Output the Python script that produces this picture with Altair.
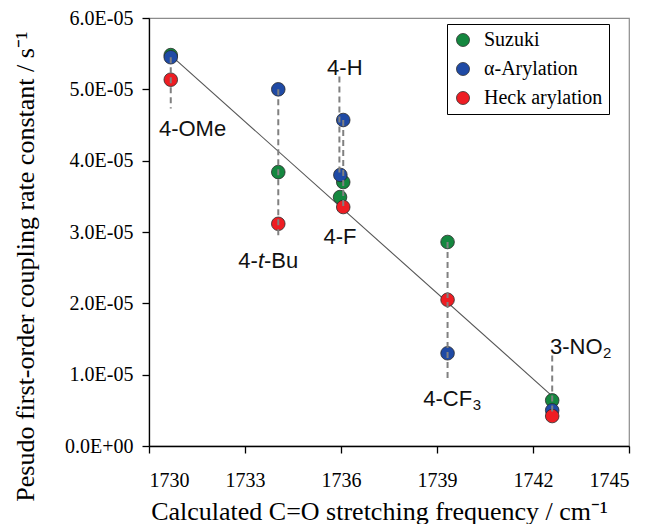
import altair as alt
import pandas as pd

# ---------------- data ----------------
series = ["Suzuki", "α-Arylation", "Heck arylation"]
colors = ["#14873F", "#1F4AA5", "#EE1D23"]

suzuki_x = [1730.68, 1734.04, 1736.07, 1735.97, 1739.33, 1742.60]
suzuki_y = [5.48e-5, 3.84e-5, 3.70e-5, 3.49e-5, 2.86e-5, 0.64e-5]
aryl_x = [1730.68, 1734.04, 1736.07, 1735.98, 1739.33, 1742.60]
aryl_y = [5.45e-5, 5.00e-5, 4.57e-5, 3.80e-5, 1.30e-5, 0.50e-5]
heck_x = [1730.68, 1734.04, 1736.07, 1739.33, 1742.60]
heck_y = [5.135e-5, 3.115e-5, 3.35e-5, 2.05e-5, 0.42e-5]

fit_x = [1730.70, 1742.60]
fit_y = [5.47e-5, 0.70e-5]

drop_x = [1730.68, 1734.04, 1735.95, 1736.07, 1739.33, 1742.60]
drop_top = [5.45e-5, 5.00e-5, 5.18e-5, 4.57e-5, 2.86e-5, 1.27e-5]
drop_bottom = [4.73e-5, 2.94e-5, 3.80e-5, 3.35e-5, 0.95e-5, 0.45e-5]

label_text = ["4-OMe", "4-H", "4-F"]
label_x = [1731.36, 1736.12, 1735.97]
label_y = [4.45e-5, 5.30e-5, 2.93e-5]

# multi-part labels (left-anchored)
tbu_x, tbu_y = 1732.79, 2.595e-5
cf3_x, cf3_y = 1738.57, 0.656e-5
no2_x, no2_y = 1742.53, 1.385e-5

x_ticks = [1730, 1733, 1736, 1739, 1742, 1745]
y_ticks = [0, 1e-5, 2e-5, 3e-5, 4e-5, 5e-5, 6e-5]
y_tick_labels = ["0.0E+00", "1.0E-05", "2.0E-05", "3.0E-05", "4.0E-05", "5.0E-05", "6.0E-05"]

x_title = "Calculated C=O stretching frequency / cm⁻¹"
y_title = "Pesudo first-order coupling rate constant / s⁻¹"

# ---------------- tables ----------------
pts = pd.concat([
    pd.DataFrame({"series": series[0], "x": suzuki_x, "y": suzuki_y}),
    pd.DataFrame({"series": series[1], "x": aryl_x, "y": aryl_y}),
    pd.DataFrame({"series": series[2], "x": heck_x, "y": heck_y}),
], ignore_index=True)
fit = pd.DataFrame({"x": fit_x, "y": fit_y})
drops = pd.DataFrame({"x": drop_x, "y": drop_top, "y2": drop_bottom})
labels = pd.DataFrame({"text": label_text, "x": label_x, "y": label_y})
tbu = pd.DataFrame({"x": [tbu_x], "y": [tbu_y]})
cf3 = pd.DataFrame({"x": [cf3_x], "y": [cf3_y]})
no2 = pd.DataFrame({"x": [no2_x], "y": [no2_y]})

serif = "Liberation Serif"
sans = "Liberation Sans"

label_expr = "[" + ",".join(f"'{s}'" for s in y_tick_labels) + "][round(datum.value*1e5)]"

X = alt.X("x:Q",
          scale=alt.Scale(domain=[1730, 1745], nice=False, zero=False),
          axis=alt.Axis(values=x_ticks, format="d", title=x_title, grid=False,
                        tickSize=7, labelPadding=17, labelFont=serif, labelFontSize=20,
                        labelColor="black", titleFont=serif, titleFontSize=26,
                        titleFontWeight="normal", titleColor="black",
                        titleBaseline="alphabetic", titleY=73, titleX=230,
                        domainColor="black", tickColor="black", domainWidth=1.3, tickWidth=1.3))
Y = alt.Y("y:Q",
          scale=alt.Scale(domain=[0, 6e-5], nice=False, zero=True),
          axis=alt.Axis(values=y_ticks, labelExpr=label_expr, title=y_title, grid=False,
                        tickSize=7, labelPadding=9, labelFont=serif, labelFontSize=20,
                        labelColor="black", titleFont=serif, titleFontSize=26,
                        titleFontWeight="normal", titleColor="black",
                        titleBaseline="alphabetic", titleX=-116, titleY=248,
                        domainColor="black", tickColor="black", domainWidth=1.3, tickWidth=1.3))

line = alt.Chart(fit).mark_line(color="#555555", strokeWidth=1.1).encode(x=X, y=Y)

points = alt.Chart(pts).mark_circle(size=185, opacity=1, stroke="#2a2a2a", strokeWidth=0.8).encode(
    x=X, y=Y,
    color=alt.Color("series:N",
                    scale=alt.Scale(domain=series, range=colors),
                    sort=series,
                    legend=alt.Legend(title=None, orient="none", legendX=298, legendY=6,
                                      fillColor="white", strokeColor="black", padding=6,
                                      rowPadding=9, symbolSize=170, symbolType="circle",
                                      symbolStrokeColor="#333333", symbolStrokeWidth=0.8,
                                      symbolOpacity=1, labelFont=serif, labelFontSize=20,
                                      labelColor="black", labelOffset=11)),
)

rules = alt.Chart(drops).mark_rule(color="#808080", strokeWidth=2, strokeDash=[6, 4]).encode(
    x=X, y=Y, y2="y2:Q")

txt_kw = dict(font=sans, fontSize=22, color="#111111", baseline="middle")
main_labels = alt.Chart(labels).mark_text(align="center", **txt_kw).encode(x=X, y=Y, text="text:N")

tbu_a = alt.Chart(tbu).mark_text(align="left", text="4-", **txt_kw).encode(x=X, y=Y)
tbu_b = alt.Chart(tbu).mark_text(align="left", text="t", fontStyle="italic", dx=19.6, **txt_kw).encode(x=X, y=Y)
tbu_c = alt.Chart(tbu).mark_text(align="left", text="-Bu", dx=25.7, **txt_kw).encode(x=X, y=Y)

cf3_a = alt.Chart(cf3).mark_text(align="left", text="4-CF", **txt_kw).encode(x=X, y=Y)
cf3_b = alt.Chart(cf3).mark_text(align="left", text="3", dx=49.5, dy=6, font=sans, fontSize=15,
                                 color="#111111", baseline="middle").encode(x=X, y=Y)
no2_a = alt.Chart(no2).mark_text(align="left", text="3-NO", **txt_kw).encode(x=X, y=Y)
no2_b = alt.Chart(no2).mark_text(align="left", text="2", dx=53.0, dy=6, font=sans, fontSize=15,
                                 color="#111111", baseline="middle").encode(x=X, y=Y)

chart = alt.layer(
    line, points, rules, main_labels, tbu_a, tbu_b, tbu_c, cf3_a, cf3_b, no2_a, no2_b
).properties(
    width=480, height=428,
    padding={"left": 141, "top": 10, "right": 15, "bottom": 78},
    autosize=alt.AutoSizeParams(type="none"),
    background="white",
).configure_view(stroke="#8c8c8c", strokeWidth=1.2)

chart.save("out.html", embed_options={"renderer": "svg", "actions": False})
